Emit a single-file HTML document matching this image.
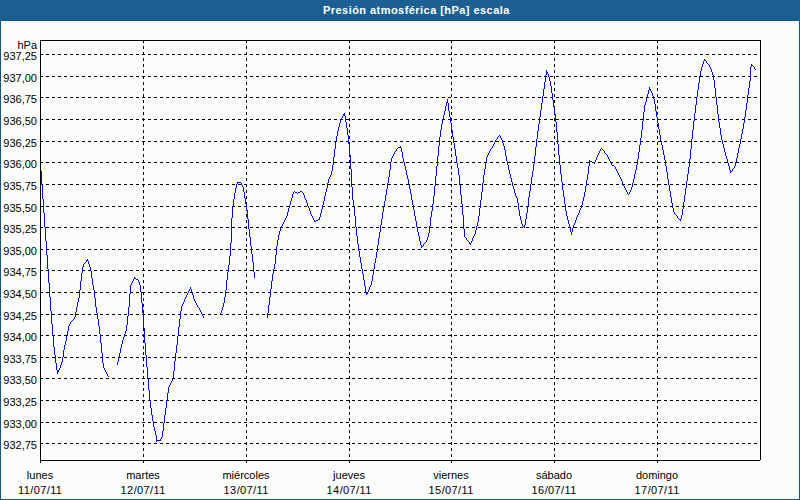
<!DOCTYPE html>
<html><head><meta charset="utf-8"><style>
html,body{margin:0;padding:0;}
body{width:800px;height:500px;position:relative;overflow:hidden;background:#FBFDFA;font-family:"Liberation Sans",sans-serif;}
#hdr{position:absolute;left:0;top:0;width:800px;height:20px;background:#1C5F93;color:#fff;font-weight:bold;font-size:11px;}
#hdr span{position:absolute;left:323px;top:3px;line-height:14px;white-space:nowrap;letter-spacing:0.45px;}
#bl{position:absolute;left:0;top:20px;width:1px;height:480px;background:#14558C;}
#br{position:absolute;left:799px;top:20px;width:1px;height:480px;background:#14558C;}
#bb{position:absolute;left:0;top:499px;width:800px;height:1px;background:#14558C;}
#bt{position:absolute;left:0;top:20px;width:800px;height:1px;background:#124F8A;}
.yl{position:absolute;right:763px;font-size:11px;line-height:14px;color:#000;white-space:nowrap;}
.xl{position:absolute;width:100px;text-align:center;font-size:11px;line-height:14px;color:#000;white-space:nowrap;}
svg{position:absolute;left:0;top:0;}
</style></head><body>
<div id="hdr"><span>Presión atmosférica [hPa] escala</span></div>
<div id="bt"></div><div id="bl"></div><div id="br"></div><div id="bb"></div>
<div class="yl" style="top:38px">hPa</div>
<div class="yl" style="top:49px">937,25</div>
<div class="yl" style="top:71px">937,00</div>
<div class="yl" style="top:92px">936,75</div>
<div class="yl" style="top:114px">936,50</div>
<div class="yl" style="top:136px">936,25</div>
<div class="yl" style="top:157px">936,00</div>
<div class="yl" style="top:179px">935,75</div>
<div class="yl" style="top:201px">935,50</div>
<div class="yl" style="top:222px">935,25</div>
<div class="yl" style="top:244px">935,00</div>
<div class="yl" style="top:265px">934,75</div>
<div class="yl" style="top:287px">934,50</div>
<div class="yl" style="top:309px">934,25</div>
<div class="yl" style="top:330px">934,00</div>
<div class="yl" style="top:352px">933,75</div>
<div class="yl" style="top:373px">933,50</div>
<div class="yl" style="top:395px">933,25</div>
<div class="yl" style="top:417px">933,00</div>
<div class="yl" style="top:438px">932,75</div>
<div class="xl" style="left:-10px;top:468px">lunes</div><div class="xl" style="left:-10px;top:483px;letter-spacing:0.4px;text-indent:0.4px">11/07/11</div>
<div class="xl" style="left:93px;top:468px">martes</div><div class="xl" style="left:93px;top:483px;letter-spacing:0.4px;text-indent:0.4px">12/07/11</div>
<div class="xl" style="left:196px;top:468px">miércoles</div><div class="xl" style="left:196px;top:483px;letter-spacing:0.4px;text-indent:0.4px">13/07/11</div>
<div class="xl" style="left:299px;top:468px">jueves</div><div class="xl" style="left:299px;top:483px;letter-spacing:0.4px;text-indent:0.4px">14/07/11</div>
<div class="xl" style="left:401px;top:468px">viernes</div><div class="xl" style="left:401px;top:483px;letter-spacing:0.4px;text-indent:0.4px">15/07/11</div>
<div class="xl" style="left:504px;top:468px">sábado</div><div class="xl" style="left:504px;top:483px;letter-spacing:0.4px;text-indent:0.4px">16/07/11</div>
<div class="xl" style="left:607px;top:468px">domingo</div><div class="xl" style="left:607px;top:483px;letter-spacing:0.4px;text-indent:0.4px">17/07/11</div>
<svg width="800" height="500" shape-rendering="crispEdges">
<path d="M40 54.5H757" stroke="#000" stroke-dasharray="3 3"/>
<path d="M40 76.5H757" stroke="#000" stroke-dasharray="3 3"/>
<path d="M40 97.5H757" stroke="#000" stroke-dasharray="3 3"/>
<path d="M40 119.5H757" stroke="#000" stroke-dasharray="3 3"/>
<path d="M40 141.5H757" stroke="#000" stroke-dasharray="3 3"/>
<path d="M40 162.5H757" stroke="#000" stroke-dasharray="3 3"/>
<path d="M40 184.5H757" stroke="#000" stroke-dasharray="3 3"/>
<path d="M40 206.5H757" stroke="#000" stroke-dasharray="3 3"/>
<path d="M40 227.5H757" stroke="#000" stroke-dasharray="3 3"/>
<path d="M40 249.5H757" stroke="#000" stroke-dasharray="3 3"/>
<path d="M40 270.5H757" stroke="#000" stroke-dasharray="3 3"/>
<path d="M40 292.5H757" stroke="#000" stroke-dasharray="3 3"/>
<path d="M40 314.5H757" stroke="#000" stroke-dasharray="3 3"/>
<path d="M40 335.5H757" stroke="#000" stroke-dasharray="3 3"/>
<path d="M40 357.5H757" stroke="#000" stroke-dasharray="3 3"/>
<path d="M40 378.5H757" stroke="#000" stroke-dasharray="3 3"/>
<path d="M40 400.5H757" stroke="#000" stroke-dasharray="3 3"/>
<path d="M40 422.5H757" stroke="#000" stroke-dasharray="3 3"/>
<path d="M40 443.5H757" stroke="#000" stroke-dasharray="3 3"/>
<path d="M143.5 40V460" stroke="#000" stroke-dasharray="3 3"/>
<path d="M246.5 40V460" stroke="#000" stroke-dasharray="3 3"/>
<path d="M349.5 40V460" stroke="#000" stroke-dasharray="3 3"/>
<path d="M451.5 40V460" stroke="#000" stroke-dasharray="3 3"/>
<path d="M554.5 40V460" stroke="#000" stroke-dasharray="3 3"/>
<path d="M657.5 40V460" stroke="#000" stroke-dasharray="3 3"/>
<path d="M40 40.5H761M760.5 40V460M40 460.5H760M40.5 40V463" stroke="#000"/>
<path d="M143.5 460V463" stroke="#000"/>
<path d="M246.5 460V463" stroke="#000"/>
<path d="M349.5 460V463" stroke="#000"/>
<path d="M451.5 460V463" stroke="#000"/>
<path d="M554.5 460V463" stroke="#000"/>
<path d="M657.5 460V463" stroke="#000"/>
<path d="M41 171h1v14h-1zM42 185h1v14h-1zM43 199h1v14h-1zM44 213h1v14h-1zM45 227h1v14h-1zM46 241h1v14h-1zM47 255h1v14h-1zM48 269h1v14h-1zM49 283h1v14h-1zM50 297h1v14h-1zM51 311h1v13h-1zM52 324h1v12h-1zM53 336h1v11h-1zM54 347h1v8h-1zM55 355h1v8h-1zM56 363h1v7h-1zM57 370h1v4h-1zM58 370h1v2h-1zM59 368h1v2h-1zM60 365h1v3h-1zM61 362h1v3h-1zM62 357h1v5h-1zM63 350h1v7h-1zM64 345h1v5h-1zM65 341h1v4h-1zM66 336h1v5h-1zM67 331h1v5h-1zM68 326h1v5h-1zM69 324h1v2h-1zM70 322h1v2h-1zM71 321h1v1h-1zM72 320h1v1h-1zM73 319h1v1h-1zM74 317h1v2h-1zM75 312h1v5h-1zM76 307h1v5h-1zM77 302h1v5h-1zM78 298h1v4h-1zM79 290h1v8h-1zM80 281h1v9h-1zM81 273h1v8h-1zM82 267h1v6h-1zM83 264h1v3h-1zM84 263h1v1h-1zM85 262h1v1h-1zM86 260h1v2h-1zM87 259h1v2h-1zM88 261h1v3h-1zM89 264h1v3h-1zM90 267h1v4h-1zM91 271h1v7h-1zM92 278h1v7h-1zM93 285h1v5h-1zM94 290h1v8h-1zM95 298h1v9h-1zM96 307h1v6h-1zM97 313h1v6h-1zM98 319h1v7h-1zM99 326h1v8h-1zM100 334h1v9h-1zM101 343h1v10h-1zM102 353h1v10h-1zM103 363h1v5h-1zM104 368h1v2h-1zM105 370h1v2h-1zM106 372h1v2h-1zM107 374h1v2h-1zM108 376h1v1h-1zM117 362h1v3h-1zM118 358h1v4h-1zM119 353h1v5h-1zM120 348h1v5h-1zM121 344h1v4h-1zM122 340h1v4h-1zM123 337h1v3h-1zM124 334h1v3h-1zM125 331h1v3h-1zM126 325h1v6h-1zM127 316h1v9h-1zM128 307h1v9h-1zM129 294h1v13h-1zM130 285h1v9h-1zM131 283h1v2h-1zM132 281h1v2h-1zM133 279h1v2h-1zM134 277h1v2h-1zM135 278h1v1h-1zM136 279h1v1h-1zM137 279h1v1h-1zM138 280h1v2h-1zM139 282h1v3h-1zM140 285h1v7h-1zM141 292h1v11h-1zM142 303h1v10h-1zM143 313h1v15h-1zM144 328h1v15h-1zM145 343h1v12h-1zM146 355h1v12h-1zM147 367h1v12h-1zM148 379h1v11h-1zM149 390h1v10h-1zM150 400h1v8h-1zM151 408h1v7h-1zM152 415h1v6h-1zM153 421h1v6h-1zM154 427h1v4h-1zM155 431h1v4h-1zM156 435h1v7h-1zM157 440h1v1h-1zM158 440h1v1h-1zM159 440h1v1h-1zM160 439h1v2h-1zM161 437h1v2h-1zM162 431h1v6h-1zM163 423h1v8h-1zM164 415h1v8h-1zM165 408h1v7h-1zM166 401h1v7h-1zM167 393h1v8h-1zM168 387h1v6h-1zM169 385h1v2h-1zM170 383h1v2h-1zM171 381h1v2h-1zM172 379h1v2h-1zM173 371h1v8h-1zM174 361h1v10h-1zM175 353h1v8h-1zM176 345h1v8h-1zM177 336h1v9h-1zM178 327h1v9h-1zM179 319h1v8h-1zM180 311h1v8h-1zM181 306h1v5h-1zM182 304h1v2h-1zM183 302h1v2h-1zM184 299h1v3h-1zM185 297h1v2h-1zM186 295h1v2h-1zM187 293h1v2h-1zM188 291h1v2h-1zM189 289h1v2h-1zM190 287h1v2h-1zM191 289h1v3h-1zM192 292h1v3h-1zM193 295h1v4h-1zM194 299h1v2h-1zM195 301h1v2h-1zM196 303h1v2h-1zM197 305h1v2h-1zM198 307h1v1h-1zM199 308h1v2h-1zM200 310h1v2h-1zM201 312h1v2h-1zM202 314h1v2h-1zM203 316h1v2h-1zM220 313h1v2h-1zM221 310h1v3h-1zM222 307h1v3h-1zM223 303h1v4h-1zM224 297h1v6h-1zM225 290h1v7h-1zM226 280h1v10h-1zM227 272h1v8h-1zM228 265h1v7h-1zM229 256h1v9h-1zM230 243h1v13h-1zM231 218h1v25h-1zM232 206h1v12h-1zM233 199h1v7h-1zM234 193h1v6h-1zM235 188h1v5h-1zM236 184h1v4h-1zM237 182h1v2h-1zM238 182h1v1h-1zM239 182h1v1h-1zM240 182h1v1h-1zM241 183h1v2h-1zM242 185h1v2h-1zM243 187h1v5h-1zM244 192h1v6h-1zM245 198h1v6h-1zM246 204h1v6h-1zM247 210h1v9h-1zM248 219h1v10h-1zM249 229h1v8h-1zM250 237h1v9h-1zM251 246h1v8h-1zM252 254h1v8h-1zM253 262h1v10h-1zM254 272h1v6h-1zM267 313h1v5h-1zM268 305h1v8h-1zM269 297h1v8h-1zM270 289h1v8h-1zM271 281h1v8h-1zM272 274h1v7h-1zM273 269h1v5h-1zM274 264h1v5h-1zM275 255h1v9h-1zM276 246h1v9h-1zM277 240h1v6h-1zM278 235h1v5h-1zM279 231h1v4h-1zM280 228h1v3h-1zM281 226h1v2h-1zM282 224h1v2h-1zM283 222h1v2h-1zM284 220h1v2h-1zM285 218h1v2h-1zM286 216h1v2h-1zM287 212h1v4h-1zM288 208h1v4h-1zM289 205h1v3h-1zM290 201h1v4h-1zM291 198h1v3h-1zM292 194h1v4h-1zM293 192h1v2h-1zM294 191h1v1h-1zM295 192h1v1h-1zM296 192h1v1h-1zM297 193h1v1h-1zM298 192h1v1h-1zM299 192h1v1h-1zM300 191h1v1h-1zM301 191h1v1h-1zM302 192h1v1h-1zM303 193h1v2h-1zM304 195h1v3h-1zM305 198h1v2h-1zM306 200h1v3h-1zM307 203h1v3h-1zM308 206h1v2h-1zM309 208h1v3h-1zM310 211h1v3h-1zM311 214h1v2h-1zM312 216h1v2h-1zM313 218h1v2h-1zM314 220h1v2h-1zM315 221h1v1h-1zM316 220h1v1h-1zM317 220h1v1h-1zM318 219h1v1h-1zM319 217h1v3h-1zM320 213h1v4h-1zM321 209h1v4h-1zM322 205h1v4h-1zM323 201h1v4h-1zM324 196h1v5h-1zM325 192h1v4h-1zM326 188h1v4h-1zM327 183h1v5h-1zM328 179h1v4h-1zM329 177h1v2h-1zM330 175h1v2h-1zM331 171h1v4h-1zM332 165h1v6h-1zM333 157h1v8h-1zM334 149h1v8h-1zM335 142h1v7h-1zM336 136h1v6h-1zM337 131h1v5h-1zM338 127h1v4h-1zM339 123h1v4h-1zM340 120h1v3h-1zM341 118h1v2h-1zM342 116h1v2h-1zM343 114h1v2h-1zM344 113h1v3h-1zM345 116h1v6h-1zM346 122h1v6h-1zM347 128h1v7h-1zM348 135h1v9h-1zM349 144h1v11h-1zM350 155h1v14h-1zM351 169h1v18h-1zM352 187h1v13h-1zM353 200h1v7h-1zM354 207h1v9h-1zM355 216h1v11h-1zM356 227h1v9h-1zM357 236h1v8h-1zM358 244h1v7h-1zM359 251h1v6h-1zM360 257h1v6h-1zM361 263h1v6h-1zM362 269h1v5h-1zM363 274h1v6h-1zM364 280h1v6h-1zM365 286h1v6h-1zM366 292h1v3h-1zM367 292h1v2h-1zM368 290h1v2h-1zM369 287h1v3h-1zM370 285h1v2h-1zM371 281h1v4h-1zM372 275h1v6h-1zM373 269h1v6h-1zM374 263h1v6h-1zM375 258h1v5h-1zM376 252h1v6h-1zM377 245h1v7h-1zM378 238h1v7h-1zM379 232h1v6h-1zM380 225h1v7h-1zM381 219h1v6h-1zM382 212h1v7h-1zM383 206h1v6h-1zM384 201h1v5h-1zM385 195h1v6h-1zM386 189h1v6h-1zM387 183h1v6h-1zM388 177h1v6h-1zM389 170h1v7h-1zM390 162h1v8h-1zM391 158h1v4h-1zM392 156h1v2h-1zM393 154h1v2h-1zM394 152h1v2h-1zM395 151h1v1h-1zM396 149h1v2h-1zM397 148h1v1h-1zM398 147h1v1h-1zM399 147h1v1h-1zM400 146h1v2h-1zM401 148h1v4h-1zM402 152h1v6h-1zM403 158h1v4h-1zM404 162h1v4h-1zM405 166h1v4h-1zM406 170h1v5h-1zM407 175h1v4h-1zM408 179h1v5h-1zM409 184h1v5h-1zM410 189h1v5h-1zM411 194h1v6h-1zM412 200h1v5h-1zM413 205h1v5h-1zM414 210h1v6h-1zM415 216h1v5h-1zM416 221h1v6h-1zM417 227h1v5h-1zM418 232h1v4h-1zM419 236h1v5h-1zM420 241h1v4h-1zM421 245h1v3h-1zM422 246h1v1h-1zM423 244h1v2h-1zM424 243h1v1h-1zM425 242h1v1h-1zM426 240h1v2h-1zM427 237h1v3h-1zM428 233h1v4h-1zM429 226h1v7h-1zM430 217h1v9h-1zM431 211h1v6h-1zM432 204h1v7h-1zM433 196h1v8h-1zM434 186h1v10h-1zM435 176h1v10h-1zM436 166h1v10h-1zM437 156h1v10h-1zM438 146h1v10h-1zM439 137h1v9h-1zM440 130h1v7h-1zM441 124h1v6h-1zM442 119h1v5h-1zM443 115h1v4h-1zM444 111h1v4h-1zM445 106h1v5h-1zM446 102h1v4h-1zM447 99h1v4h-1zM448 103h1v8h-1zM449 111h1v6h-1zM450 117h1v6h-1zM451 123h1v7h-1zM452 130h1v7h-1zM453 137h1v6h-1zM454 143h1v6h-1zM455 149h1v7h-1zM456 156h1v7h-1zM457 163h1v5h-1zM458 168h1v7h-1zM459 175h1v10h-1zM460 185h1v10h-1zM461 195h1v9h-1zM462 204h1v11h-1zM463 215h1v14h-1zM464 229h1v8h-1zM465 237h1v1h-1zM466 238h1v2h-1zM467 240h1v1h-1zM468 241h1v1h-1zM469 242h1v2h-1zM470 243h1v2h-1zM471 241h1v2h-1zM472 238h1v3h-1zM473 236h1v2h-1zM474 234h1v2h-1zM475 230h1v4h-1zM476 226h1v4h-1zM477 222h1v4h-1zM478 216h1v6h-1zM479 208h1v8h-1zM480 200h1v8h-1zM481 192h1v8h-1zM482 183h1v9h-1zM483 175h1v8h-1zM484 169h1v6h-1zM485 162h1v7h-1zM486 157h1v5h-1zM487 155h1v2h-1zM488 153h1v2h-1zM489 151h1v2h-1zM490 149h1v2h-1zM491 148h1v1h-1zM492 146h1v2h-1zM493 144h1v2h-1zM494 142h1v2h-1zM495 140h1v2h-1zM496 139h1v1h-1zM497 137h1v2h-1zM498 136h1v1h-1zM499 135h1v1h-1zM500 136h1v2h-1zM501 138h1v2h-1zM502 140h1v3h-1zM503 143h1v3h-1zM504 146h1v4h-1zM505 150h1v6h-1zM506 156h1v5h-1zM507 161h1v4h-1zM508 165h1v5h-1zM509 170h1v4h-1zM510 174h1v4h-1zM511 178h1v4h-1zM512 182h1v4h-1zM513 186h1v3h-1zM514 189h1v4h-1zM515 193h1v3h-1zM516 196h1v2h-1zM517 198h1v5h-1zM518 203h1v7h-1zM519 210h1v6h-1zM520 216h1v4h-1zM521 220h1v4h-1zM522 224h1v2h-1zM523 226h1v1h-1zM524 225h1v3h-1zM525 219h1v6h-1zM526 213h1v6h-1zM527 206h1v7h-1zM528 197h1v9h-1zM529 191h1v6h-1zM530 184h1v7h-1zM531 177h1v7h-1zM532 171h1v6h-1zM533 164h1v7h-1zM534 156h1v8h-1zM535 147h1v9h-1zM536 139h1v8h-1zM537 131h1v8h-1zM538 124h1v7h-1zM539 117h1v7h-1zM540 110h1v7h-1zM541 103h1v7h-1zM542 96h1v7h-1zM543 89h1v7h-1zM544 82h1v7h-1zM545 75h1v7h-1zM546 70h1v5h-1zM547 72h1v2h-1zM548 74h1v3h-1zM549 77h1v4h-1zM550 81h1v5h-1zM551 86h1v7h-1zM552 93h1v7h-1zM553 100h1v7h-1zM554 107h1v7h-1zM555 114h1v8h-1zM556 122h1v10h-1zM557 132h1v12h-1zM558 144h1v11h-1zM559 155h1v10h-1zM560 165h1v9h-1zM561 174h1v8h-1zM562 182h1v8h-1zM563 190h1v7h-1zM564 197h1v7h-1zM565 204h1v7h-1zM566 211h1v5h-1zM567 216h1v4h-1zM568 220h1v4h-1zM569 224h1v4h-1zM570 228h1v4h-1zM571 232h1v3h-1zM572 228h1v4h-1zM573 225h1v3h-1zM574 223h1v2h-1zM575 220h1v3h-1zM576 217h1v3h-1zM577 215h1v2h-1zM578 213h1v2h-1zM579 210h1v3h-1zM580 208h1v2h-1zM581 205h1v3h-1zM582 201h1v4h-1zM583 197h1v4h-1zM584 192h1v5h-1zM585 186h1v6h-1zM586 180h1v6h-1zM587 174h1v6h-1zM588 166h1v8h-1zM589 160h1v6h-1zM590 161h1v1h-1zM591 161h1v1h-1zM592 162h1v1h-1zM593 162h1v1h-1zM594 162h1v2h-1zM595 160h1v2h-1zM596 157h1v3h-1zM597 155h1v2h-1zM598 153h1v2h-1zM599 151h1v2h-1zM600 149h1v2h-1zM601 148h1v1h-1zM602 149h1v1h-1zM603 150h1v1h-1zM604 151h1v2h-1zM605 153h1v1h-1zM606 154h1v1h-1zM607 155h1v2h-1zM608 157h1v2h-1zM609 159h1v2h-1zM610 161h1v2h-1zM611 163h1v2h-1zM612 165h1v1h-1zM613 165h1v1h-1zM614 166h1v1h-1zM615 167h1v2h-1zM616 169h1v2h-1zM617 171h1v2h-1zM618 173h1v2h-1zM619 175h1v2h-1zM620 177h1v2h-1zM621 179h1v2h-1zM622 181h1v3h-1zM623 184h1v2h-1zM624 186h1v2h-1zM625 188h1v2h-1zM626 190h1v2h-1zM627 192h1v2h-1zM628 194h1v1h-1zM629 192h1v2h-1zM630 190h1v2h-1zM631 187h1v3h-1zM632 183h1v4h-1zM633 179h1v4h-1zM634 174h1v5h-1zM635 170h1v4h-1zM636 165h1v5h-1zM637 159h1v6h-1zM638 152h1v7h-1zM639 145h1v7h-1zM640 138h1v7h-1zM641 130h1v8h-1zM642 121h1v9h-1zM643 112h1v9h-1zM644 105h1v7h-1zM645 102h1v3h-1zM646 98h1v4h-1zM647 94h1v4h-1zM648 90h1v4h-1zM649 87h1v3h-1zM650 89h1v2h-1zM651 91h1v2h-1zM652 93h1v3h-1zM653 96h1v3h-1zM654 99h1v5h-1zM655 104h1v7h-1zM656 111h1v6h-1zM657 117h1v6h-1zM658 123h1v6h-1zM659 129h1v6h-1zM660 135h1v6h-1zM661 141h1v4h-1zM662 145h1v5h-1zM663 150h1v5h-1zM664 155h1v5h-1zM665 160h1v6h-1zM666 166h1v6h-1zM667 172h1v7h-1zM668 179h1v6h-1zM669 185h1v6h-1zM670 191h1v6h-1zM671 197h1v6h-1zM672 203h1v5h-1zM673 208h1v4h-1zM674 212h1v2h-1zM675 214h1v1h-1zM676 215h1v1h-1zM677 216h1v2h-1zM678 218h1v1h-1zM679 219h1v1h-1zM680 219h1v2h-1zM681 215h1v4h-1zM682 209h1v6h-1zM683 202h1v7h-1zM684 195h1v7h-1zM685 188h1v7h-1zM686 181h1v7h-1zM687 174h1v7h-1zM688 167h1v7h-1zM689 159h1v8h-1zM690 149h1v10h-1zM691 139h1v10h-1zM692 130h1v9h-1zM693 121h1v9h-1zM694 113h1v8h-1zM695 105h1v8h-1zM696 97h1v8h-1zM697 90h1v7h-1zM698 83h1v7h-1zM699 76h1v7h-1zM700 71h1v5h-1zM701 67h1v4h-1zM702 64h1v3h-1zM703 61h1v3h-1zM704 59h1v2h-1zM705 60h1v1h-1zM706 61h1v2h-1zM707 63h1v1h-1zM708 64h1v1h-1zM709 65h1v2h-1zM710 67h1v2h-1zM711 69h1v3h-1zM712 72h1v3h-1zM713 75h1v5h-1zM714 80h1v8h-1zM715 88h1v9h-1zM716 97h1v8h-1zM717 105h1v9h-1zM718 114h1v8h-1zM719 122h1v6h-1zM720 128h1v7h-1zM721 135h1v5h-1zM722 140h1v4h-1zM723 144h1v4h-1zM724 148h1v4h-1zM725 152h1v4h-1zM726 156h1v3h-1zM727 159h1v4h-1zM728 163h1v3h-1zM729 166h1v4h-1zM730 170h1v3h-1zM731 171h1v1h-1zM732 169h1v2h-1zM733 168h1v1h-1zM734 166h1v2h-1zM735 162h1v4h-1zM736 158h1v4h-1zM737 153h1v5h-1zM738 148h1v5h-1zM739 144h1v4h-1zM740 139h1v5h-1zM741 134h1v5h-1zM742 129h1v5h-1zM743 123h1v6h-1zM744 117h1v6h-1zM745 110h1v7h-1zM746 103h1v7h-1zM747 95h1v8h-1zM748 88h1v7h-1zM749 81h1v7h-1zM750 67h1v14h-1zM751 64h1v3h-1zM752 65h1v1h-1zM753 66h1v1h-1zM754 67h1v2h-1zM755 69h1v1h-1z" fill="#0000FF"/>
</svg>
</body></html>
